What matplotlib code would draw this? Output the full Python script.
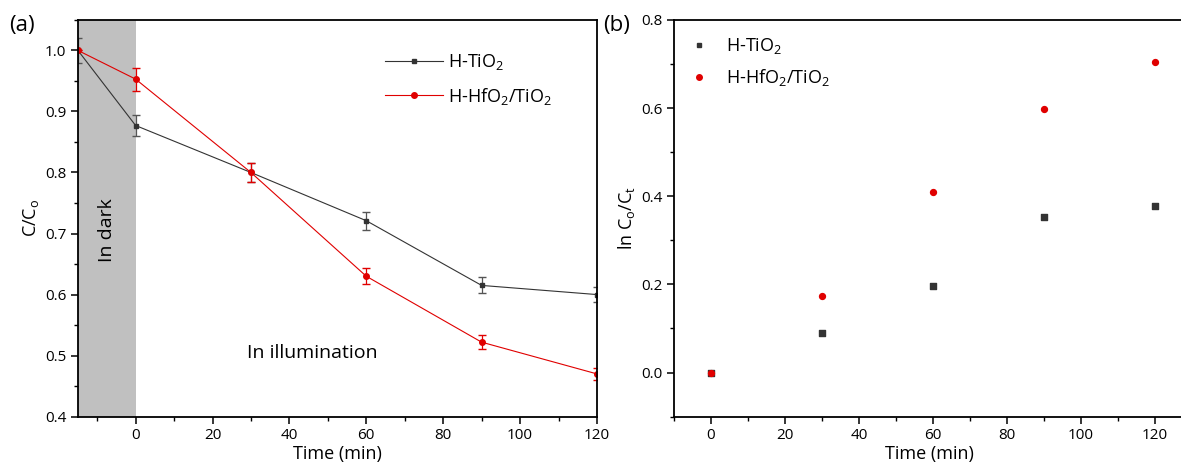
import matplotlib.pyplot as plt
import numpy as np
from matplotlib.ticker import MultipleLocator
from matplotlib.lines import Line2D

plt.rcParams['font.family'] = ['Open Sans', 'DejaVu Sans']
plt.rcParams['mathtext.fontset'] = 'custom'
plt.rcParams['mathtext.rm'] = 'Open Sans'
plt.rcParams['mathtext.it'] = 'Open Sans'
plt.rcParams['axes.unicode_minus'] = False

# 降解曲线数据
t_a = [-15, 0, 30, 60, 90, 120]
ti_a = [1.0, 0.877, 0.80, 0.721, 0.615, 0.600]
ti_err = [0.02, 0.018, 0.016, 0.0145, 0.013, 0.012]
hf_a = [1.0, 0.953, 0.80, 0.630, 0.522, 0.470]
hf_err = [0.0, 0.019, 0.016, 0.013, 0.011, 0.010]

# 动力学数据 ln(C0/Ct)
t_b = [0, 30, 60, 90, 120]
ti_b = [0.0, 0.090, 0.196, 0.352, 0.377]
hf_b = [0.0, 0.174, 0.410, 0.597, 0.704]

black = '#333333'
red = '#e00000'

fig = plt.figure(figsize=(11.81, 4.74), dpi=100)
ax1 = fig.add_axes([0.066, 0.121, 0.4395, 0.837])
ax2 = fig.add_axes([0.5707, 0.121, 0.432, 0.837])

# (a) C/C0 随时间变化
ax1.axvspan(-15, 0, color='#c0c0c0', lw=0)
ax1.errorbar(t_a, ti_a, yerr=ti_err, color=black, ecolor='#555555', marker='s',
             ms=3.5, lw=0.8, elinewidth=0.9, capsize=3)
ax1.errorbar(t_a, hf_a, yerr=hf_err, color=red, ecolor=red, marker='o',
             ms=4, lw=0.8, elinewidth=0.9, capsize=3)
ax1.set_xlim(-15, 120)
ax1.set_ylim(0.4, 1.05)
ax1.xaxis.set_minor_locator(MultipleLocator(10))
ax1.yaxis.set_major_locator(MultipleLocator(0.1))
ax1.yaxis.set_minor_locator(MultipleLocator(0.05))
ax1.set_xticks([0, 20, 40, 60, 80, 100, 120])
ax1.set_xlabel('Time (min)', fontsize=13, labelpad=1)
ax1.set_ylabel('C/C$_o$', fontsize=13, labelpad=3)
ax1.text(-7.5, 0.705, 'In dark', rotation=90, fontsize=14, ha='center', va='center')
ax1.text(46, 0.505, 'In illumination', fontsize=14, ha='center', va='center')
h1 = [Line2D([], [], color=black, marker='s', ms=3.5, lw=0.8),
      Line2D([], [], color=red, marker='o', ms=4, lw=0.8)]
ax1.legend(h1, ['H-TiO$_2$', 'H-HfO$_2$/TiO$_2$'], loc='upper left',
           bbox_to_anchor=(0.56, 0.96), frameon=False, fontsize=13,
           handlelength=3.2, handletextpad=0.3, labelspacing=0.75)
fig.text(0.008, 0.935, '(a)', fontsize=16)

# (b) 一级动力学拟合
ax2.scatter(t_b, ti_b, marker='s', s=14, color=black, zorder=3)
ax2.scatter(t_b, hf_b, marker='o', s=18, color=red, zorder=3)
ax2.set_xlim(-10, 128)
ax2.set_ylim(-0.1, 0.8)
ax2.xaxis.set_minor_locator(MultipleLocator(10))
ax2.yaxis.set_minor_locator(MultipleLocator(0.1))
ax2.set_xticks([0, 20, 40, 60, 80, 100, 120])
ax2.set_yticks([0.0, 0.2, 0.4, 0.6, 0.8])
ax2.set_xlabel('Time (min)', fontsize=13, labelpad=1)
ax2.set_ylabel('ln C$_o$/C$_t$', fontsize=13, labelpad=3)
h2 = [Line2D([], [], color=black, marker='s', ms=3.5, lw=0),
      Line2D([], [], color=red, marker='o', ms=4, lw=0)]
ax2.legend(h2, ['H-TiO$_2$', 'H-HfO$_2$/TiO$_2$'], loc='upper left',
           bbox_to_anchor=(0.0, 1.0), frameon=False, fontsize=13,
           handlelength=1.0, handletextpad=1.0, labelspacing=0.6)
fig.text(0.511, 0.935, '(b)', fontsize=16)

for ax in (ax1, ax2):
    for s in ax.spines.values():
        s.set_linewidth(1.3)
    ax.tick_params(which='major', direction='out', length=5, width=1.1, labelsize=11)
    ax.tick_params(which='minor', direction='out', length=3, width=1.0)

fig.savefig('out.png', dpi=100)
